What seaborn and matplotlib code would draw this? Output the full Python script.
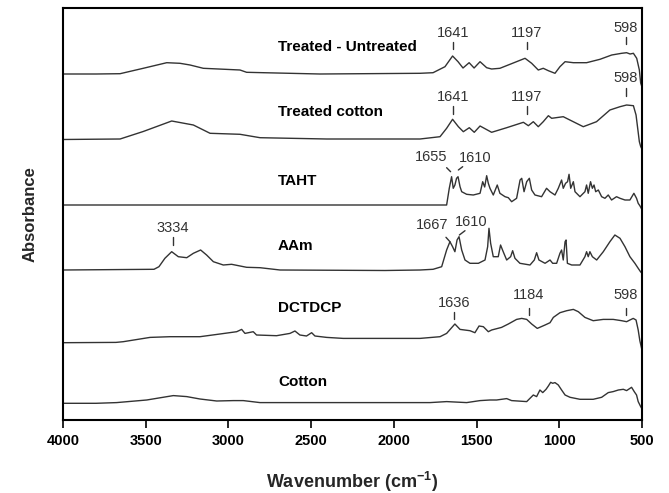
import numpy as np
import pandas as pd
import matplotlib
matplotlib.use("Agg")
import matplotlib.pyplot as plt
import seaborn as sns

# ---------------- data (absorbance, arbitrary units, height above own baseline) -------------
tu_wn = [4000, 3800, 3655, 3515, 3373, 3293, 3232, 3152, 2930, 2890, 2789, 2447, 1842, 1763,
         1691, 1645, 1612, 1582, 1545, 1515, 1479, 1439, 1409, 1359, 1298, 1207, 1167, 1127,
         1097, 1066, 1026, 996, 965, 915, 835, 754, 683, 623, 593, 572, 552, 532, 516, 508, 502]
tu_ab = [0, 0, 0.3, 5.7, 11.3, 10.7, 9, 5.7, 4, 1.7, 1.3, 0, 0.7, 1.3,
         7.3, 18, 12.3, 6, 11.3, 6, 12.3, 6.3, 5, 5.7, 9.7, 15.7, 10.7, 4,
         5.7, 3.3, 0.7, 7.3, 12.3, 11.3, 11.3, 14.7, 19, 20.7, 21.3, 20, 20.7, 15.7, 4, -9, -12]

tc_wn = [4000, 3800, 3655, 3515, 3343, 3212, 3111, 2930, 2809, 2406, 1842, 1721, 1681, 1645,
         1610, 1580, 1544, 1514, 1479, 1409, 1318, 1217, 1187, 1157, 1127, 1097, 1066, 1046,
         976, 855, 775, 694, 633, 593, 552, 536, 516, 508, 502]
tc_ab = [0, 0.3, 0.5, 8, 18.5, 14.5, 6.2, 5.2, 1.8, 0.5, 0.5, 2.8, 11.2, 20.2,
         12.8, 7.8, 11.8, 7.2, 13.5, 7.2, 11.8, 17.2, 13.8, 17.8, 12.8, 17.8, 23.8, 21.2,
         22.8, 12.8, 17.8, 29.5, 32.8, 34.5, 33.8, 24.5, -2.2, -7, -9]

taht_wn = [4000, 1842, 1681, 1665, 1651, 1641, 1631, 1621, 1612, 1600, 1590, 1560, 1520, 1479,
           1463, 1451, 1439, 1429, 1419, 1399, 1375, 1359, 1328, 1308, 1288, 1258, 1237, 1227,
           1213, 1197, 1181, 1167, 1147, 1107, 1077, 1056, 1026, 1006, 986, 976, 962, 950, 941,
           931, 915, 905, 875, 845, 835, 825, 811, 800, 790, 780, 764, 744, 724, 704, 684, 654,
           633, 603, 573, 549, 533, 523, 513, 502]
taht_ab = [0, 0, 0, 16.7, 28.3, 16.7, 20, 26.7, 28.3, 18.3, 13.3, 10.7, 10, 11.7,
           23.3, 18, 29.3, 21.7, 16.7, 10, 20, 11.7, 8.3, 7.3, 3.3, 6.7, 25, 26.7,
           13.3, 23.3, 26.7, 15, 10, 8.3, 16.7, 13.3, 10, 16.7, 25, 16.7, 21.7, 23.3, 30.7,
           16.7, 23.3, 13.3, 8.3, 13.3, 20, 11.7, 23.3, 16.7, 20, 13.3, 15, 8.3, 6.7, 10, 5, 8.3,
           6.7, 5, 5, 11.7, 6.7, 1.7, -0.7, -4]

aam_wn = [4000, 3450, 3420, 3384, 3343, 3303, 3252, 3212, 3168, 3132, 3091, 3031, 2981, 2890,
          2809, 2688, 2054, 1842, 1763, 1711, 1681, 1661, 1645, 1631, 1618, 1606, 1590, 1570,
          1540, 1489, 1449, 1433, 1425, 1415, 1399, 1369, 1355, 1339, 1318, 1294, 1282, 1268,
          1238, 1177, 1151, 1137, 1123, 1086, 1056, 1040, 1016, 996, 986, 976, 965, 959, 951,
          925, 875, 845, 835, 825, 815, 800, 774, 734, 694, 664, 633, 603, 573, 543, 523, 509, 502]
aam_ab = [0, 0.7, 3.3, 11.7, 18.3, 13.3, 12.3, 16.7, 20, 15, 8.3, 5, 5.7, 2.7,
          2.3, 0, -0.5, 0, 0.7, 3.3, 20, 28.3, 23.3, 18.3, 30, 33.3, 20, 10,
          6.7, 6.7, 10, 23.3, 41.7, 26.7, 13.3, 13.3, 25, 18.3, 10, 13.3, 19.3, 11.7,
          6.7, 5, 10, 17.3, 10, 6.7, 10, 6.7, 6.7, 16.7, 20, 10, 28.3, 30, 6.7,
          5, 5, 13.3, 18.3, 13.3, 18.3, 13.3, 10, 18.3, 28.3, 35, 31.7, 23.3, 13.3, 6.7, 1.7, -1.7, -3]

dc_wn = [4000, 3680, 3636, 3474, 3353, 3172, 3051, 2950, 2920, 2900, 2850, 2830, 2709, 2628,
         2598, 2568, 2528, 2497, 2477, 2406, 2306, 1842, 1721, 1681, 1631, 1600, 1540, 1510,
         1485, 1459, 1429, 1409, 1349, 1308, 1258, 1227, 1197, 1167, 1133, 1086, 1056, 1036,
         996, 955, 915, 885, 845, 795, 734, 674, 623, 593, 573, 553, 536, 523, 513, 502]
dc_ab = [0, 0.3, 1, 5.3, 6, 6, 8.7, 11, 13.3, 9.3, 11, 7.7, 7, 9.3,
         11.7, 7.7, 6.7, 10, 6.7, 5.3, 4.3, 4.3, 6, 9.3, 18.7, 13.3, 12, 10,
         16.7, 16, 11, 12.7, 15.3, 18.7, 23.3, 24.3, 23.3, 18.7, 14.3, 17.7, 20, 25.3,
         30, 32, 33.3, 31, 25.3, 22, 23.3, 23.3, 22, 21, 22.7, 24.3, 22.7, 12.7, 2, -6]

co_wn = [4000, 3800, 3676, 3494, 3333, 3252, 3172, 3071, 2970, 2910, 2809, 1782, 1681, 1560,
         1479, 1419, 1379, 1318, 1288, 1197, 1177, 1157, 1137, 1117, 1100, 1080, 1066, 1052,
         1040, 1026, 1006, 986, 965, 935, 875, 795, 744, 704, 674, 643, 613, 593, 563, 547,
         533, 523, 508, 502]
co_ab = [0, 0, 0.7, 3.3, 7.7, 6.7, 4.3, 2.3, 2.7, 2.7, 0.7, 0.7, 1.7, 0.7,
         2.7, 3.3, 3.3, 4.7, 2.7, 1.7, 5, 8.3, 6.7, 13.3, 10.7, 14, 17.3, 21,
         20, 20.7, 18.3, 13.3, 8.3, 6, 4, 4, 6, 10.7, 11.7, 13.3, 14, 12.7, 16, 11.7,
         8.3, 1.7, -3.3, -5]

names = ["Treated - Untreated", "Treated cotton", "TAHT", "AAm", "DCTDCP", "Cotton"]
wns = [tu_wn, tc_wn, taht_wn, aam_wn, dc_wn, co_wn]
abss = [tu_ab, tc_ab, taht_ab, aam_ab, dc_ab, co_ab]
offsets = [346, 280.5, 215, 150, 77.3, 16.7]
label_y = [373, 308, 239, 174, 112, 38]

# peak annotations: (text, tick x0, tick y0, tick x1, tick y1, text x, text y)
peaks = [
    ("1641", 1641, 371, 1641, 378, 1641, 387),
    ("1197", 1197, 371, 1197, 378, 1197, 387),
    ("598", 598, 376, 598, 383, 598, 392),
    ("1641", 1641, 306, 1641, 314, 1641, 323),
    ("1197", 1197, 306, 1197, 314, 1197, 323),
    ("598", 598, 324, 598, 332, 598, 342),
    ("1655", 1657, 248.3, 1681, 252.3, 1776, 263),
    ("1610", 1610, 250, 1584, 253.3, 1510, 262),
    ("1667", 1661, 178.3, 1685, 182.7, 1770, 195),
    ("1610", 1604, 185, 1570, 189.3, 1534, 198),
    ("3334", 3334, 175, 3334, 183, 3334, 192),
    ("1636", 1636, 100.7, 1636, 108.3, 1636, 117.3),
    ("1184", 1184, 105, 1184, 112.3, 1184, 125),
    ("598", 598, 105, 598, 112.3, 598, 125),
]

xticks = [4000, 3500, 3000, 2500, 2000, 1500, 1000, 500]

# ---------------- plot -------------
sns.set_style("ticks")
plt.rcParams["font.family"] = ["Liberation Sans", "DejaVu Sans"]
plt.rcParams["mathtext.fontset"] = "custom"
plt.rcParams["mathtext.rm"] = "Liberation Sans:bold"
plt.rcParams["mathtext.bf"] = "Liberation Sans:bold"

fig = plt.figure(figsize=(6.69, 4.93), dpi=100)
ax = fig.add_axes([63 / 669, 1 - 420 / 493, (642 - 63) / 669, (420 - 8) / 493])

line_color = "#333333"
for name, wn, ab, off in zip(names, wns, abss, offsets):
    df = pd.DataFrame({"wn": wn, "A": np.array(ab) + off})
    sns.lineplot(data=df, x="wn", y="A", ax=ax, color=line_color, lw=1.0,
                 sort=False, estimator=None)

for name, ly in zip(names, label_y):
    ax.text(2700, ly, name, ha="left", va="center", fontsize=11,
            fontweight="bold", color="black")

for txt, x0, y0, x1, y1, tx, ty in peaks:
    ax.plot([x0, x1], [y0, y1], color=line_color, lw=1.0)
    ax.text(tx, ty, txt, ha="center", va="center", fontsize=10.5, color=line_color)

ax.set_xlim(4000, 500)
ax.set_ylim(0, 412)
ax.set_xticks(xticks)
ax.set_xticklabels([str(t) for t in xticks], fontweight="bold", fontsize=10.5)
ax.set_yticks([])
ax.tick_params(axis="x", direction="out", length=6, width=1.2, pad=4, colors="black")
for sp in ax.spines.values():
    sp.set_visible(True)
    sp.set_linewidth(1.5)
    sp.set_color("black")

ax.set_xlabel("Wavenumber (cm$^{\\mathrm{-1}}$)", fontsize=13, fontweight="bold", labelpad=16)
ax.set_ylabel("Absorbance", fontsize=12, fontweight="bold", labelpad=18)

fig.savefig("out.png", dpi=100)
